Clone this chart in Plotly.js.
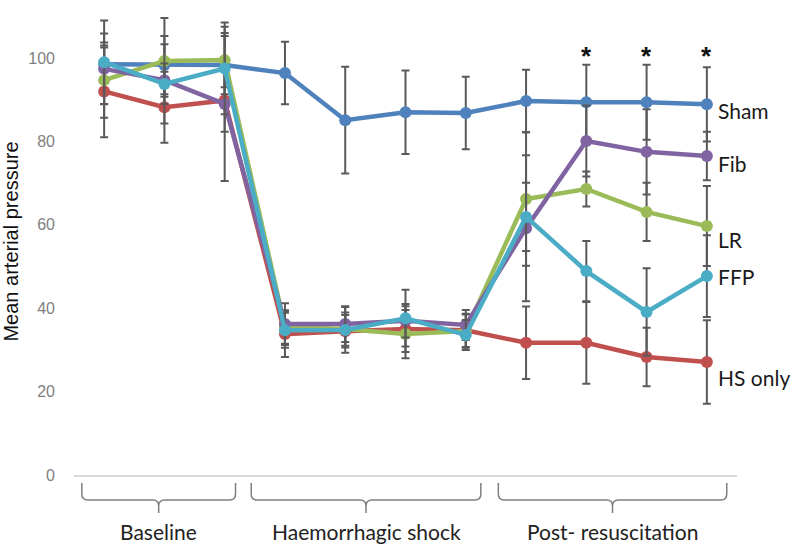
<!DOCTYPE html>
<html>
<head>
<meta charset="utf-8">
<script src="https://cdn.plot.ly/plotly-3.0.1.min.js"></script>
<style>html,body{margin:0;padding:0;background:#fff;}#chart{width:800px;height:553px;}</style>
</head>
<body>
<div id="chart"></div>
<script>
// ---- data ----
const timepoints = ['B1','B2','B3','H1','H2','H3','H4','R1','R2','R3','R4'];

const shamMean = [98.5, 98.3, 98.3, 96.4, 85.1, 87.0, 86.8, 89.7, 89.4, 89.4, 88.9];
const shamSD   = [4.0, 7.0, 7.0, 7.5, 12.8, 10.0, 8.7, 7.5, 9.0, 9.0, 8.9];

const hsMean = [92.0, 88.2, 89.8, 33.8, 34.5, 35.0, 34.7, 31.7, 31.7, 28.3, 27.1];
const hsSD   = [11.0, 8.5, 7.5, 5.5, 3.9, 5.5, 4.0, 8.7, 9.8, 7.0, 10.0];

const lrMean = [94.7, 99.3, 99.5, 35.5, 35.0, 33.8, 34.5, 66.2, 68.6, 63.1, 59.7];
const lrSD   = [9.0, 10.3, 6.5, 4.0, 4.0, 5.8, 4.0, 16.0, 4.2, 7.0, 9.6];

const fibMean = [97.4, 94.7, 89.0, 36.2, 36.2, 37.0, 36.0, 59.2, 80.1, 77.5, 76.5];
const fibSD   = [8.5, 4.0, 18.5, 5.0, 4.3, 4.0, 3.6, 17.5, 8.5, 10.2, 5.8];

const ffpMean = [99.0, 93.8, 97.5, 34.7, 34.8, 37.6, 33.6, 61.9, 48.9, 39.1, 47.7];
const ffpSD   = [10.0, 9.5, 11.0, 4.2, 5.5, 6.8, 3.6, 8.2, 7.2, 10.5, 9.8];

const seriesNames = ['Sham', 'HS only', 'LR', 'Fib', 'FFP'];
const significantIdx = [8, 9, 10];
const significantMark = '*';

const phaseLabels = ['Baseline', 'Haemorrhagic shock', 'Post- resuscitation'];

// ---- styling ----
const colors = {'Sham':'#4F81BD', 'HS only':'#C0504D', 'LR':'#9BBB59', 'Fib':'#8064A2', 'FFP':'#4BACC6'};
const labelY = {'Sham':87.5, 'Fib':74.8, 'LR':56.4, 'FFP':47.7, 'HS only':23.5};
const means = {'Sham':shamMean, 'HS only':hsMean, 'LR':lrMean, 'Fib':fibMean, 'FFP':ffpMean};
const sds = {'Sham':shamSD, 'HS only':hsSD, 'LR':lrSD, 'Fib':fibSD, 'FFP':ffpSD};

const traces = seriesNames.map(n => ({
  type: 'scatter', mode: 'lines+markers', name: n,
  x: timepoints, y: means[n],
  line: {color: colors[n], width: 4.5},
  marker: {color: colors[n], size: 12},
  error_y: {type: 'data', array: sds[n], visible: true, color: '#595959', thickness: 2, width: 4},
  cliponaxis: false,
  hoverinfo: 'skip'
}));

const labelFont = 'Lato, Open Sans, sans-serif';
const annotations = [];
seriesNames.forEach(n => {
  annotations.push({xref: 'paper', yref: 'y', x: 0.969, y: labelY[n], xanchor: 'left', yanchor: 'middle',
    text: n, showarrow: false, font: {family: labelFont, size: 21, color: '#1a1a1a'}});
});
significantIdx.forEach(i => {
  annotations.push({xref: 'x', yref: 'y', x: timepoints[i], y: 100.6, yanchor: 'middle',
    text: '<b>' + significantMark + '</b>', showarrow: false, font: {family: 'Liberation Sans, Arial', size: 26, color: '#111'}});
});

// brackets under the axis (paper coordinates)
const L = 74, R = 737, T = 8, B = 475;
const nCat = timepoints.length;
const px = d => (d + 0.5) / nCat;             // category position -> paper x
const py = p => (B - p) / (B - T);            // pixel y -> paper y
const bracketStart = [-0.37, 2.44, 6.54];
const bracketEnd = [2.18, 6.25, 10.33];
const yTop = py(483), yMid = py(500), yTip = py(513);
const rx = 6 / (R - L), ry = 6 / (B - T);
const shapes = [];
phaseLabels.forEach((lab, k) => {
  const x1 = px(bracketStart[k]), x2 = px(bracketEnd[k]), xc = (x1 + x2) / 2;
  const path = `M ${x1},${yTop} L ${x1},${yMid + ry} Q ${x1},${yMid} ${x1 + rx},${yMid} ` +
    `L ${xc - rx},${yMid} Q ${xc},${yMid} ${xc},${yMid - ry} L ${xc},${yTip} ` +
    `M ${xc},${yMid - ry} Q ${xc},${yMid} ${xc + rx},${yMid} L ${x2 - rx},${yMid} ` +
    `Q ${x2},${yMid} ${x2},${yMid + ry} L ${x2},${yTop}`;
  shapes.push({type: 'path', xref: 'paper', yref: 'paper', path: path, line: {color: '#7f7f7f', width: 1.5}});
  annotations.push({xref: 'paper', yref: 'paper', x: xc, y: py(531), xanchor: 'center', yanchor: 'middle',
    text: lab, showarrow: false, font: {family: labelFont, size: 21, color: '#222'}});
});

const layout = {
  width: 800, height: 553,
  margin: {l: L, r: 800 - R, t: T, b: 553 - B},
  paper_bgcolor: '#fff', plot_bgcolor: '#fff',
  showlegend: false,
  xaxis: {type: 'category', range: [-0.5, nCat - 0.5], showticklabels: false, ticks: '',
    showgrid: false, zeroline: false, showline: true, linecolor: '#d9d9d9', linewidth: 1.5, fixedrange: true},
  yaxis: {range: [0, 112], tickvals: [0, 20, 40, 60, 80, 100], showgrid: false, zeroline: false, showline: false,
    ticks: '', ticklabelstandoff: 18,
    tickfont: {family: 'Liberation Sans, Arial', size: 16, color: '#7f7f7f'},
    title: {text: 'Mean arterial pressure', standoff: 4, font: {family: 'Liberation Sans, Arial', size: 20, color: '#111'}}},
  annotations: annotations,
  shapes: shapes
};

Plotly.newPlot('chart', traces, layout, {staticPlot: true, displayModeBar: false});
</script>
</body>
</html>
